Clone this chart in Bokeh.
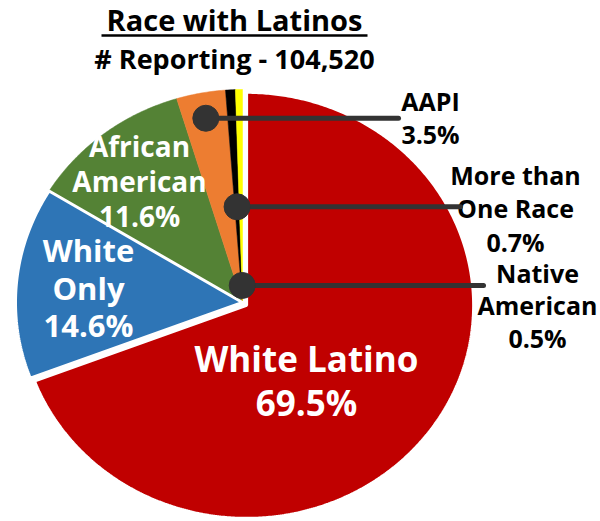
import numpy as np
from bokeh.plotting import figure
from bokeh.models import Range1d, ColumnDataSource
from bokeh.embed import file_html
from bokeh.resources import INLINE
from bokeh.core.properties import value

# ---- data ----
categories = ["White Latino", "White Only", "African American", "AAPI",
              "More than One Race", "Native American"]
percents = [69.5, 14.6, 11.6, 3.5, 0.7, 0.5]
pct_labels = ["69.5%", "14.6%", "11.6%", "3.5%", "0.7%", "0.5%"]
colors = ["#C00000", "#2E75B6", "#548235", "#ED7D31", "#000000", "#FFFF00"]
title_text = "Race with Latinos"
subtitle_text = "# Reporting - 104,520"

# ---- layout ----
W, H = 600, 521
cx, cy, rx, ry = 242, 302, 227, 213
explode = [5, 0, 0, 0, 0, 0]
FONT = value("Open Sans")
BASE_FIX = 0.4  # baseline compensation (em)

p = figure(width=W, height=H, x_range=Range1d(0, W), y_range=Range1d(H, 0),
           output_backend="svg", toolbar_location=None, min_border=0,
           x_axis_type=None, y_axis_type=None)
p.grid.visible = False
p.outline_line_color = None
p.background_fill_color = "white"

frac = np.array(percents) / sum(percents)
ends = np.cumsum(frac) * 2 * np.pi
starts = ends - frac * 2 * np.pi
mids = (starts + ends) / 2

xs, ys = [], []
for s, e, d, m in zip(starts, ends, explode, mids):
    ox = cx + d * np.sin(m)
    oy = cy - d * np.cos(m)
    t = np.linspace(s, e, max(int(np.degrees(e - s) * 2), 4))
    xs.append([ox] + list(ox + rx * np.sin(t)) + [ox])
    ys.append([oy] + list(oy - ry * np.cos(t)) + [oy])

small = [2, 3, 4, 5]
p.patches(xs=[xs[i] for i in small], ys=[ys[i] for i in small],
          fill_color=[colors[i] for i in small], line_color=[colors[i] for i in small],
          line_width=0.5)
for i in [1, 0]:
    p.patch(xs[i], ys[i], fill_color=colors[i], line_color="white", line_width=3)


def put_text(xv, yv, txt, size, color):
    src = ColumnDataSource(dict(x=list(xv), y=[v - BASE_FIX * size for v in yv], t=list(txt)))
    p.text(x="x", y="y", text="t", source=src, text_font=FONT, text_font_style="bold",
           text_font_size=f"{size}px", text_align="center", text_baseline="alphabetic",
           text_color=color)


# ---- title ----
put_text([234], [31], [title_text], 29, "black")
p.segment(x0=[101], y0=[35], x1=[367], y1=[35], line_color="black", line_width=2.5)
put_text([234], [69], [subtitle_text], 27, "black")

# ---- slice labels ----
name_lines = [["White Latino"], ["White", "Only"], ["African", "American"],
              ["AAPI"], ["More than", "One Race"], ["Native", "American"]]
label_x = [306, 88, 139, 430, 515, 537]
label_y0 = [372, 262, 157, 110, 184, 282]
label_step = [44, 37.5, 35, 33, 33.5, 32.5]
label_size = [35, 31, 28, 25, 25, 25]
label_color = ["white", "white", "white", "black", "black", "black"]

for i in range(len(categories)):
    lines = name_lines[i] + [pct_labels[i]]
    put_text([label_x[i]] * len(lines),
             [label_y0[i] + k * label_step[i] for k in range(len(lines))],
             lines, label_size[i], label_color[i])

# ---- leader lines for small slices ----
leader_idx = [3, 4, 5]
leader_frac = [0.88, 0.45, 0.08]
leader_end_x = [398, 460, 483]
dx = [cx + f * rx * np.sin(mids[i]) for i, f in zip(leader_idx, leader_frac)]
dy = [cy - f * ry * np.cos(mids[i]) for i, f in zip(leader_idx, leader_frac)]
p.segment(x0=dx, y0=dy, x1=leader_end_x, y1=dy, line_color="#333333", line_width=5,
          line_cap="round")
p.scatter(x=dx, y=dy, size=26, marker="circle", fill_color="#333333", line_color="#333333")

open("out.html", "w").write(file_html(p, INLINE))
